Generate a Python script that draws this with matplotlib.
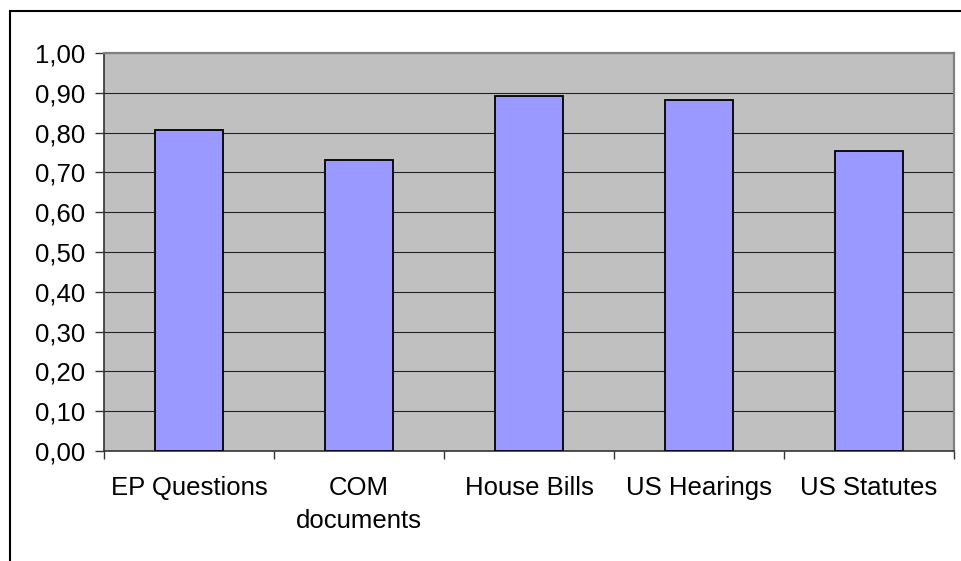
import matplotlib.pyplot as plt
import numpy as np
from matplotlib.patches import Rectangle
from matplotlib.ticker import FuncFormatter, FixedLocator

# values
categories = ['EP Questions', 'COM\ndocuments', 'House Bills', 'US Hearings', 'US Statutes']
scores = [0.806, 0.732, 0.891, 0.881, 0.754]
y_ticks = np.arange(0, 1.01, 0.1)

plt.rcParams['font.family'] = ['Liberation Sans', 'DejaVu Sans']

fig = plt.figure(figsize=(9.62, 5.61), dpi=100)
ax = fig.add_axes([104 / 962, 1 - 451 / 561, 850 / 962, 398 / 561])

x = np.arange(len(categories))
ax.set_facecolor('#C0C0C0')
ax.bar(x, scores, width=0.4, color='#9999FF', edgecolor='black', linewidth=1.3, zorder=3)

ax.set_xlim(-0.5, len(categories) - 0.5)
ax.set_ylim(0, 1.0)

# gridlines
ax.set_yticks(y_ticks)
ax.yaxis.grid(True, color='#222222', linewidth=0.8, zorder=1)
ax.set_axisbelow(True)
ax.yaxis.set_major_formatter(FuncFormatter(lambda v, p: f'{v:.2f}'.replace('.', ',')))

# category boundaries get tick marks, labels sit at the centres
ax.xaxis.set_major_locator(FixedLocator(np.arange(-0.5, len(categories), 1.0)))
ax.xaxis.set_major_formatter(FuncFormatter(lambda v, p: ''))
ax.xaxis.set_minor_locator(FixedLocator(x))
ax.set_xticklabels(categories, minor=True, linespacing=1.5)
ax.tick_params(axis='x', which='major', direction='out', length=6, width=1, color='#333333')
ax.tick_params(axis='x', which='minor', length=0, pad=18, labelsize=18.5)
ax.tick_params(axis='y', direction='out', length=6.5, width=1, color='#333333', pad=7, labelsize=18.5)

for s in ['left', 'bottom']:
    ax.spines[s].set_color('#333333')
    ax.spines[s].set_linewidth(1.2)
for s in ['top', 'right']:
    ax.spines[s].set_color('#808080')
    ax.spines[s].set_linewidth(1.6)

# outer chart frame, cut off at the right and bottom
fig.patches.append(Rectangle((10 / 962, -0.2), 1.5, 1.2 - 11 / 561,
                             transform=fig.transFigure, fill=False,
                             edgecolor='black', linewidth=1.5))

plt.savefig('out.png', dpi=100)
